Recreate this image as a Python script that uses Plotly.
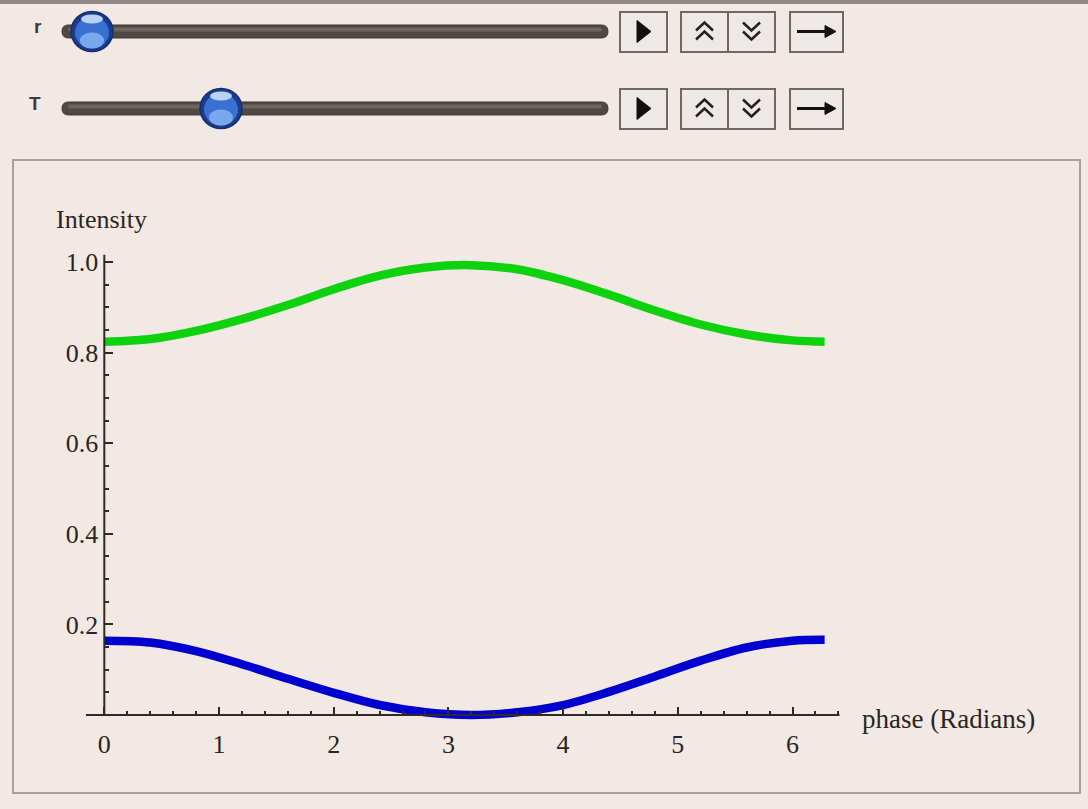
import plotly.graph_objects as go

# ---------------- data ----------------
phase = [0, 0.4, 0.8, 1.2, 1.6, 2.0, 2.4, 2.8, 3.2, 3.6, 4.0, 4.4, 4.8, 5.2, 5.6, 6.0, 6.28]
green_intensity = [0.824, 0.830, 0.848, 0.874, 0.905, 0.940, 0.970, 0.988, 0.993, 0.984, 0.960, 0.928, 0.893, 0.862, 0.840, 0.827, 0.824]
blue_intensity = [0.164, 0.160, 0.141, 0.112, 0.080, 0.049, 0.022, 0.006, 0.000, 0.006, 0.022, 0.051, 0.085, 0.120, 0.149, 0.164, 0.166]

x_ticks = [0, 1, 2, 3, 4, 5, 6]
x_tick_labels = ["0", "1", "2", "3", "4", "5", "6"]
y_ticks = [0.2, 0.4, 0.6, 0.8, 1.0]
y_tick_labels = ["0.2", "0.4", "0.6", "0.8", "1.0"]
x_minor = [round(i * 0.2, 1) for i in range(1, 33) if i % 5 != 0]
y_minor = [round(i * 0.05, 2) for i in range(1, 21) if i % 4 != 0]

x_title = "phase (Radians)"
y_title = "Intensity"
slider_labels = ["r", "T"]

# ---------------- geometry helpers ----------------
W, H = 1088, 809
BG = "#f2e9e5"
TXT = "#2a2522"
SERIF = "Liberation Serif"


def px(x):
    return x / W


def py(y):
    return 1 - y / H


shapes = []
annotations = []


def rect(x0, y0, x1, y1, **kw):
    shapes.append(dict(type="rect", xref="paper", yref="paper",
                       x0=px(x0), x1=px(x1), y0=py(y1), y1=py(y0), **kw))


def ellipse(x0, y0, x1, y1, **kw):
    shapes.append(dict(type="circle", xref="paper", yref="paper",
                       x0=px(x0), x1=px(x1), y0=py(y1), y1=py(y0), **kw))


def path(points, closed=False, **kw):
    s = "M " + " L ".join(f"{px(a):.5f},{py(b):.5f}" for a, b in points)
    if closed:
        s += " Z"
    shapes.append(dict(type="path", xref="paper", yref="paper", path=s, **kw))


def track(x0, x1, yc, h, color, edge="#3e3834", lw=1):
    r = h / 2
    P = lambda a, b: f"{px(a):.5f},{py(b):.5f}"
    s = (f"M {P(x0 + r, yc - r)} L {P(x1 - r, yc - r)} Q {P(x1, yc - r)} {P(x1, yc)} "
         f"Q {P(x1, yc + r)} {P(x1 - r, yc + r)} L {P(x0 + r, yc + r)} "
         f"Q {P(x0, yc + r)} {P(x0, yc)} Q {P(x0, yc - r)} {P(x0 + r, yc - r)} Z")
    shapes.append(dict(type="path", xref="paper", yref="paper", path=s,
                       fillcolor=color, line=dict(color=edge, width=lw)))


# top border line
rect(0, 0, W, 4, fillcolor="#8f8884", line=dict(width=0))

# ---------------- controls ----------------
rows = [(31.5, 92), (108.5, 221)]
for (yc, knob_x), lab, lx in zip(rows, slider_labels, [38, 35]):
    annotations.append(dict(text=f"<b>{lab}</b>", xref="paper", yref="paper",
                            x=px(lx), y=py(yc - 5), showarrow=False,
                            font=dict(family="Liberation Sans", size=19, color="#3f3a37"),
                            xanchor="center", yanchor="middle"))
    track(62, 608, yc, 13, "#4f4843")
    track(68, 602, yc - 2, 4, "#6e655f", edge="#6e655f", lw=0)
    # knob
    ellipse(knob_x - 21, yc - 20, knob_x + 21, yc + 20, fillcolor="#1b3b8e",
            line=dict(color="#16306c", width=1.5))
    ellipse(knob_x - 17, yc - 15, knob_x + 17, yc + 17, fillcolor="#3a70d2",
            line=dict(width=0))
    ellipse(knob_x - 12, yc + 1, knob_x + 12, yc + 17, fillcolor="#79a9ec",
            line=dict(width=0))
    ellipse(knob_x - 11, yc - 17, knob_x + 11, yc - 8, fillcolor="#b9d1f3",
            line=dict(width=0))
    # buttons
    top, bot = yc - 19.5, yc + 20.5
    for bx0, bx1 in [(620, 667), (681, 728), (728, 775), (790, 843)]:
        rect(bx0, top, bx1, bot, fillcolor="#efe9e6", line=dict(color="#6f6864", width=2))
    # play triangle
    path([(637, yc - 11), (651, yc), (637, yc + 11)], closed=True,
         fillcolor="#111111", line=dict(color="#111111", width=1))
    # double up
    for dy in (-8, 1):
        path([(696, yc + dy + 7), (704.5, yc + dy - 1), (713, yc + dy + 7)],
             line=dict(color="#222222", width=2.5))
    # double down
    for dy in (-8, 1):
        path([(743, yc + dy - 1), (751.5, yc + dy + 7), (760, yc + dy - 1)],
             line=dict(color="#222222", width=2.5))
    # arrow
    path([(797, yc), (828, yc)], line=dict(color="#111111", width=3))
    path([(825, yc - 6), (836, yc), (825, yc + 6)], closed=True,
         fillcolor="#111111", line=dict(color="#111111", width=1))

# plot panel frame
rect(13, 160, 1080, 793, fillcolor="rgba(0,0,0,0)", line=dict(color="#a8a09c", width=2))

# ---------------- chart ----------------
X0PX, XSCALE = 104.3, 114.7
Y0PX, YSCALE = 715.0, 453.0
x_range = [-X0PX / XSCALE, (W - X0PX) / XSCALE]
y_range = [(Y0PX - H) / YSCALE, Y0PX / YSCALE]

fig = go.Figure()
fig.add_trace(go.Scatter(x=phase, y=green_intensity, mode="lines",
                         line=dict(color="#0fd20f", width=8.5, shape="spline", smoothing=1.0),
                         hoverinfo="skip", showlegend=False))
fig.add_trace(go.Scatter(x=phase, y=blue_intensity, mode="lines",
                         line=dict(color="#0000cf", width=8.5, shape="spline", smoothing=1.0),
                         hoverinfo="skip", showlegend=False))

# axis lines (data coords)
shapes.append(dict(type="line", xref="x", yref="y", x0=-0.16, x1=6.41, y0=0, y1=0,
                   line=dict(color="#2f2a27", width=2), layer="above"))
shapes.append(dict(type="line", xref="x", yref="y", x0=0, x1=0, y0=0, y1=1.016,
                   line=dict(color="#2f2a27", width=2), layer="above"))

annotations.append(dict(text=y_title, xref="paper", yref="paper", x=px(54), y=py(219),
                        xanchor="left", yanchor="middle", showarrow=False,
                        font=dict(family=SERIF, size=26, color=TXT)))
annotations.append(dict(text=x_title, xref="paper", yref="paper", x=px(860), y=py(719),
                        xanchor="left", yanchor="middle", showarrow=False,
                        font=dict(family=SERIF, size=27, color=TXT)))

fig.update_layout(
    width=W, height=H, margin=dict(l=0, r=0, t=0, b=0),
    paper_bgcolor=BG, plot_bgcolor=BG,
    shapes=shapes, annotations=annotations,
    xaxis=dict(range=x_range, anchor="free", position=1 - Y0PX / H,
               showgrid=False, zeroline=False, showline=False,
               tickmode="array", tickvals=x_ticks, ticktext=x_tick_labels,
               ticks="inside", ticklen=8, tickwidth=2, tickcolor="#2f2a27",
               ticklabelstandoff=11,
               tickfont=dict(family=SERIF, size=26, color=TXT),
               minor=dict(tickmode="array", tickvals=x_minor, ticks="inside",
                          ticklen=4, tickwidth=2, tickcolor="#2f2a27"),
               fixedrange=True),
    yaxis=dict(range=y_range, anchor="free", position=X0PX / W,
               showgrid=False, zeroline=False, showline=False,
               tickmode="array", tickvals=y_ticks, ticktext=y_tick_labels,
               ticks="inside", ticklen=8, tickwidth=2, tickcolor="#2f2a27",
               ticklabelstandoff=6,
               tickfont=dict(family=SERIF, size=26, color=TXT),
               minor=dict(tickmode="array", tickvals=y_minor, ticks="inside",
                          ticklen=4, tickwidth=2, tickcolor="#2f2a27"),
               fixedrange=True),
)

fig.write_html("out.html", config={"displayModeBar": False},
               post_script="document.body.style.margin='0';document.body.style.overflow='hidden';")
